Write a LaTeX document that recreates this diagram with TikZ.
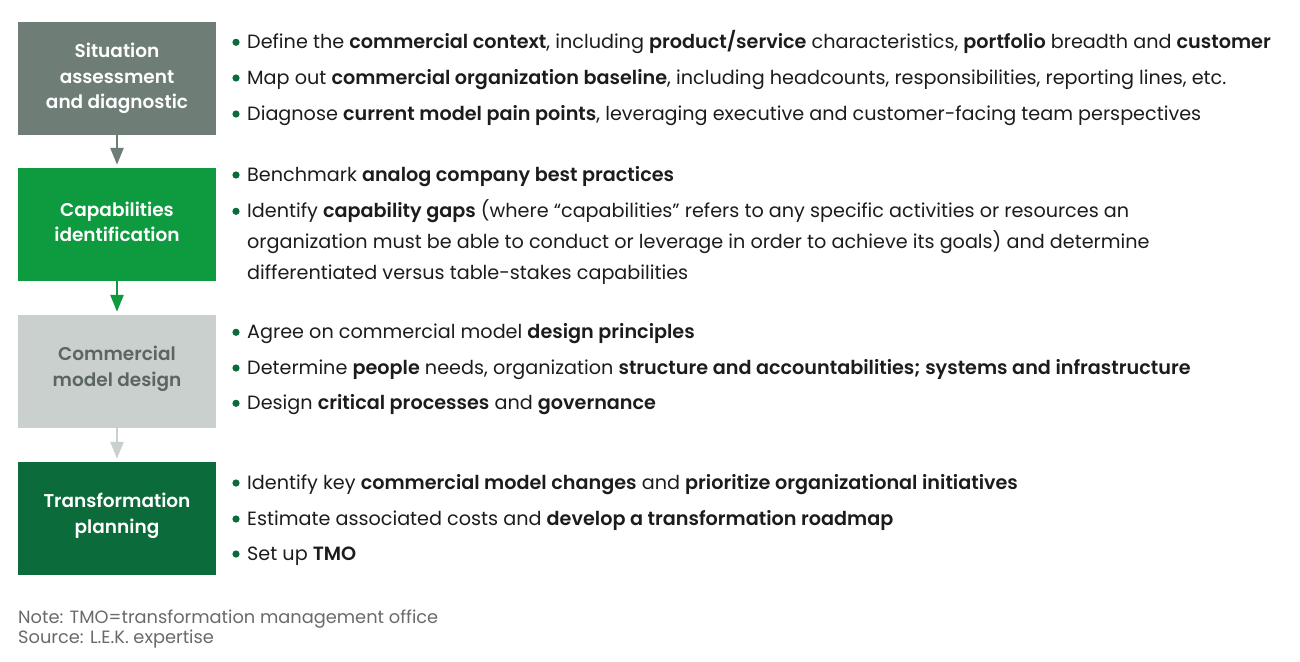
\documentclass[tikz,border=0pt]{standalone}
\usepackage{fontspec}
\setmainfont{Poppins}[BoldFont={Poppins SemiBold}]
\usetikzlibrary{arrows.meta}
\definecolor{boxgray}{HTML}{6E7D76}
\definecolor{boxgreen}{HTML}{0E9A3E}
\definecolor{boxlight}{HTML}{C9D0CE}
\definecolor{boxdark}{HTML}{0B6B3A}
\definecolor{lighttext}{HTML}{5B6662}
\definecolor{dotgreen}{HTML}{0B6B3A}
\definecolor{bodytext}{HTML}{1C1C1C}
\definecolor{notegray}{HTML}{6A6A6A}
\tikzset{
  stage/.style={rectangle, minimum width=198pt, minimum height=113pt, inner sep=0pt},
  stagetext/.style={inner sep=0pt, align=center, text=white, font=\fontsize{18.5}{25.5}\selectfont\bfseries},
  flow/.style={line width=2.6pt, -{Triangle[width=13pt,length=17pt]}, shorten >=3pt},
  item/.style={anchor=base west, inner sep=0pt, text=bodytext, font=\fontsize{19.2}{22}\selectfont},
  dot/.style={circle, fill=dotgreen, inner sep=0pt, minimum size=7.2pt},
  note/.style={anchor=base west, inner sep=0pt, text=notegray, font=\fontsize{17.8}{20}\selectfont}
}
\begin{document}
\begin{tikzpicture}[x=1pt,y=-1pt]
\useasboundingbox (0,0) rectangle (1300,661);
\fill[white] (0,0) rectangle (1300,661);

% stage boxes
\node[stage, fill=boxgray] (s1) at (117,78.5) {};
\node[stage, fill=boxgreen] (s2) at (117,224.5) {};
\node[stage, fill=boxlight] (s3) at (117,371.5) {};
\node[stage, fill=boxdark] (s4) at (117,518.5) {};
\node[stagetext] (s1t) at (s1) {Situation\\assessment\\and diagnostic};
\node[stagetext, yshift=2.5pt] (s2t) at (s2) {Capabilities\\identification};
\node[stagetext, yshift=2.5pt, text=lighttext] (s3t) at (s3) {Commercial\\model design};
\node[stagetext, yshift=2.5pt] (s4t) at (s4) {Transformation\\planning};

% connectors
\draw[flow, draw=boxgray, fill=boxgray] (s1.south) -- (s2.north);
\draw[flow, draw=boxgreen, fill=boxgreen] (s2.south) -- (s3.north);
\draw[flow, draw=boxlight, fill=boxlight] (s3.south) -- (s4.north);

% bullets, stage 1
\node[dot] (d1) at (236,42.3) {};
\node[item] (t1) at (247,48.3) {Define the \textbf{commercial context}, including \textbf{product/service} characteristics, \textbf{portfolio} breadth and \textbf{customer}};
\node[dot] (d2) at (236,78) {};
\node[item] (t2) at (247,84) {Map out \textbf{commercial organization baseline}, including headcounts, responsibilities, reporting lines, etc.};
\node[dot] (d3) at (236,114) {};
\node[item] (t3) at (247,120) {Diagnose \textbf{current model pain points}, leveraging executive and customer-facing team perspectives};

% bullets, stage 2
\node[dot] (d4) at (236,175) {};
\node[item] (t4) at (247,181) {Benchmark \textbf{analog company best practices}};
\node[dot] (d5) at (236,211.3) {};
\node[item] (t5a) at (247,217.3) {Identify \textbf{capability gaps} (where “capabilities” refers to any specific activities or resources an};
\node[item] (t5b) at (247,248.3) {organization must be able to conduct or leverage in order to achieve its goals) and determine};
\node[item] (t5c) at (247,279) {differentiated versus table-stakes capabilities};

% bullets, stage 3
\node[dot] (d6) at (236,332.3) {};
\node[item] (t6) at (247,338.3) {Agree on commercial model \textbf{design principles}};
\node[dot] (d7) at (236,368) {};
\node[item] (t7) at (247,374) {Determine \textbf{people} needs, organization \textbf{structure and accountabilities; systems and infrastructure}};
\node[dot] (d8) at (236,403.3) {};
\node[item] (t8) at (247,409.3) {Design \textbf{critical processes} and \textbf{governance}};

% bullets, stage 4
\node[dot] (d9) at (236,483) {};
\node[item] (t9) at (247,489) {Identify key \textbf{commercial model changes} and \textbf{prioritize organizational initiatives}};
\node[dot] (d10) at (236,519) {};
\node[item] (t10) at (247,525) {Estimate associated costs and \textbf{develop a transformation roadmap}};
\node[dot] (d11) at (236,554) {};
\node[item] (t11) at (247,560) {Set up \textbf{TMO}};

% notes
\node[note] (n1) at (18,623) {Note: TMO=transformation management office};
\node[note] (n2) at (18,643) {Source: L.E.K. expertise};
\end{tikzpicture}
\end{document}
